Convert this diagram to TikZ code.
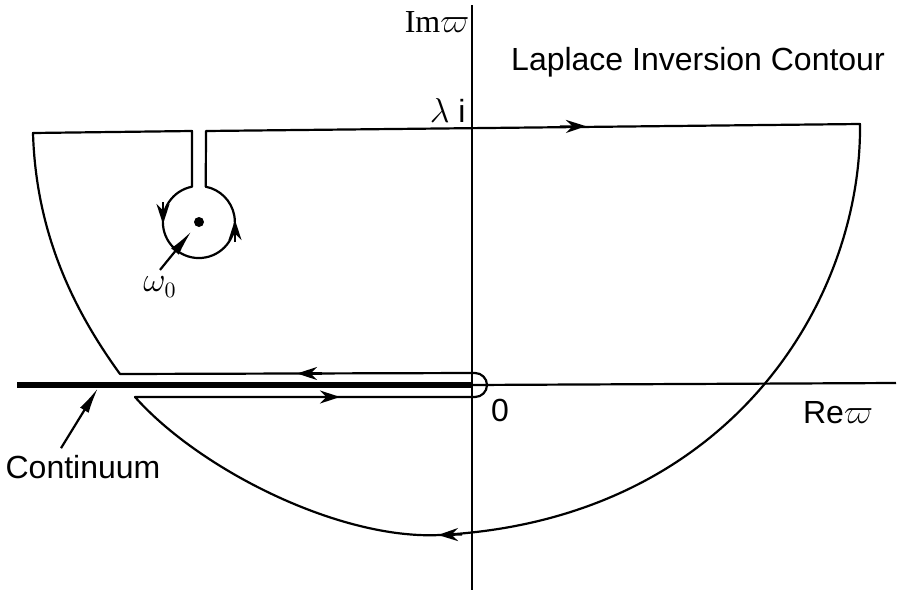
\documentclass[tikz,border=0pt]{standalone}
\usepackage{fontspec}
\setmainfont{Liberation Sans}
\newfontfamily\timesfont{Liberation Serif}
\usepackage{tikz}
\usetikzlibrary{arrows.meta}
\tikzset{every node/.append style={font=\fontsize{16}{18}\selectfont},
  contour/.style={line width=1.1pt,line join=round},
  pointer/.style={line width=1.1pt,-{Latex[length=13pt,width=5pt]}}}

\begin{document}
\begin{tikzpicture}[>={Stealth[length=10pt,width=6.5pt]},x=0.5pt,y=-0.5pt]
  \useasboundingbox (0,0) rectangle (902,590);
  \coordinate (origin) at (472,385);
  \coordinate (pole) at (199,222);
  \coordinate (cut) at (98,388);
  \draw[line width=1.1pt] (472,5) -- (472,590);
  \draw[line width=1.1pt] (origin) -- (896,383);
  \draw[line width=2.6pt] (17,385) -- (origin);
  \draw[contour] (33,133) -- (192,131) -- (192,186.7)
    arc[start angle=259,end angle=-79,radius=36] -- (206,131) -- (860,124)
    .. controls (862,300) and (730,520) .. (440,535)
    .. controls (340,540) and (200,470) .. (135,397)
    -- (475,397) arc[start angle=90,end angle=-90,radius=12] -- (120,374)
    .. controls (75,312) and (36,235) .. (33,133) -- cycle;
  \foreach \xa/\ya/\xb/\yb in {560/126.5/586/126.2,322/373.5/297/373.5,314/397/340/397,
    462/534.5/438/535,163/202/163/224,235/242/235/220}
    \draw[->,line width=1.1pt] (\xa,\ya) -- (\xb,\yb);
  \fill (pole) circle (5);
  \node (imag) at (437,22) {{\timesfont Im}$\varpi$};
  \node[anchor=east,inner sep=1pt] (lam) at (468,110) {$\lambda$ i};
  \node (title) at (698,62) {Laplace Inversion Contour};
  \node (zero) at (500,410) {0};
  \node (real) at (838,413) {Re$\varpi$};
  \node (omega) at (160,287) {$\omega_0$};
  \node (cont) at (83,467) {Continuum};
  \draw[pointer,shorten >=6pt] (omega.north) -- (pole);
  \draw[pointer] ([xshift=-11pt]cont.north) -- (cut);
\end{tikzpicture}
\end{document}
